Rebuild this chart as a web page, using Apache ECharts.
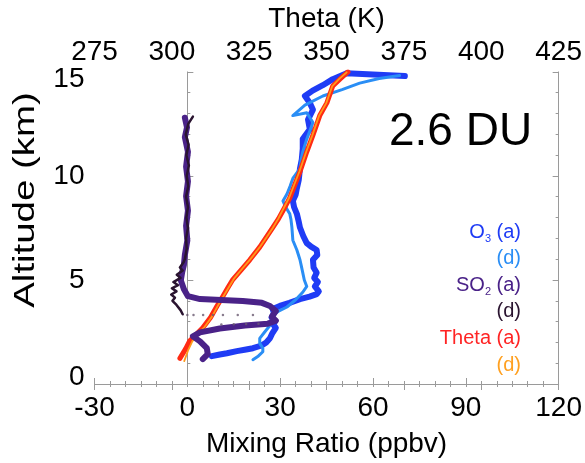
<!DOCTYPE html>
<html>
<head>
<meta charset="utf-8">
<script src="https://cdn.jsdelivr.net/npm/echarts@6/dist/echarts.min.js"></script>
<style>
  html, body { margin: 0; padding: 0; background: #fff; }
  #chart { width: 585px; height: 463px; }
</style>
</head>
<body>
<div id="chart"></div>
<script>
// Profiles: [value, altitude km]. Ascent (a) and descent (d).
const o3Ascent = [
  [7.9,1.34],[10.5,1.42],[12.8,1.48],[16,1.58],[19,1.66],[21.2,1.72],[24,1.85],[25.5,2.0],
  [26.7,2.2],[27.5,2.45],[28.6,2.7],[27.8,2.85],[28.3,3.0],[27.2,3.2],[28.0,3.4],[27.6,3.6],
  [29.9,3.75],[33,3.9],[36.4,4.08],[39.5,4.2],[41.8,4.32],[42.5,4.45],[41.2,4.69],[42.2,4.9],
  [41.0,5.1],[41.8,5.35],[40.8,5.6],[40.6,5.97],[42.0,6.2],[41.8,6.44],[40.0,6.6],[38.6,6.77],
  [37.5,7.1],[36.4,7.52],[36.0,7.8],[35.4,8.18],[34.5,8.5],[34.1,8.8],[35.0,9.1],[35.4,9.41],
  [36.0,9.8],[36.4,10.35],[37.0,10.8],[37.3,11.3],[37.3,11.77],[39.6,12.24],[39.0,12.71],
  [40.6,13.18],[39.6,13.51],[38.0,13.84],[40.5,14.1],[43.8,14.36],[47,14.65],[51.5,14.93],
  [60,14.88],[70.3,14.8]
];
const o3Descent = [
  [21.2,1.17],[23,1.35],[24.4,1.55],[24.4,1.72],[23.4,1.95],[23.4,2.19],[25,2.5],[26.7,2.81],
  [27.6,3.28],[29.5,3.5],[32.2,3.7],[35,4.05],[37.3,4.41],[38.6,4.69],[37.8,5.0],[37.3,5.35],
  [36.8,5.7],[36.4,5.97],[35.4,6.44],[34.1,6.91],[33.8,7.52],[33.5,7.9],[33.1,8.18],[31.8,8.5],
  [30.9,8.8],[32.2,9.13],[33.2,9.5],[34.1,9.88],[36.4,10.35],[36.8,10.8],[37.3,11.15],
  [38.6,11.77],[40.6,12.57],[38.6,13.04],[34.1,12.9],[38.0,13.4],[43.8,13.84],[50,14.15],
  [55.7,14.46],[62,14.68],[68.6,14.83]
];
const so2Ascent = [
  [-0.8,12.8],[-0.1,12.33],[-0.8,11.86],[0.2,11.16],[-0.4,10.45],[0.2,9.74],[-0.4,9.03],
  [0.2,8.33],[-0.4,7.6],[0,6.9],[-0.8,6.2],[-1.1,5.73],[-1.7,5.35],[-2.1,4.98],[-1.1,4.55],
  [0.2,4.22],[4.1,4.08],[17.9,3.99],[24.1,3.9],[26.7,3.75],[28.6,3.51],[27.3,3.23],[28.6,3.04],
  [26,2.9],[18.6,2.81],[10.5,2.67],[4.1,2.48],[1.8,2.29],[4.1,2.05],[6.3,1.72],[6.6,1.44],[5.0,1.2]
];
const so2Descent = [
  [1.8,12.85],[0.3,12.5],[-0.5,12.0],[0.4,11.5],[-0.3,11.0],[0.5,10.5],[-0.2,10.0],[0.3,9.5],
  [-0.4,9.0],[0.2,8.5],[-0.3,8.0],[0.2,7.5],[-0.4,7.0],[-0.2,6.5],[-0.8,6.0],[-1.2,5.85],
  [-2.4,5.6],[-1.5,5.45],[-3.4,5.25],[-2.2,5.1],[-4.5,4.9],[-3,4.75],[-5,4.6],[-3.5,4.45],
  [-5.2,4.3],[-4,4.15],[-4.8,4.0],[-3.5,3.8],[-2.2,3.55],[-1.5,3.35]
];
const so2DescentSparse = [
  [0,3.32],[2,3.32],[5.1,3.32],[8.3,3.32],[11.5,3.32],[16.3,3.32],[21.2,3.32],
  [11,2.86],[15,2.87],[19,2.88],[23,2.9]
];
const thetaAscent = [
  [302.6,1.23],[304.5,1.7],[305.8,2.08],[308,2.4],[310.0,2.7],[312.5,3.2],[314.6,3.75],
  [316.5,4.22],[318,4.6],[319.7,5.02],[322.5,5.5],[325.2,5.97],[328.4,6.58],[330.5,7.05],
  [332.6,7.52],[334.5,7.95],[335.9,8.33],[338.1,8.94],[339.8,9.6],[341.4,10.2],[343.6,11.16],
  [345.6,11.96],[347.8,12.9],[350.1,13.51],[352.0,14.32],[354.3,14.65],[356.9,15.0]
];
const thetaDescent = [
  [304.0,1.1],[305.2,1.6],[306.6,2.05],[308.6,2.45],[310.6,2.75],[313,3.25],[315.0,3.8],
  [316.8,4.25],[318.4,4.65],[320.0,5.05],[322.8,5.55],[325.4,6.0],[328.5,6.6],[330.6,7.05],
  [332.6,7.5],[334.4,7.95],[335.8,8.35],[337.9,8.95],[339.6,9.6],[341.2,10.2],[343.4,11.15],
  [345.4,11.95],[347.6,12.9],[349.9,13.5],[351.8,14.3],[354.0,14.65],[356.5,14.98]
];

// Axis ticks
const mixingTicks = { min: -30, max: 120, step: 30 };
const thetaTicks = { min: 275, max: 425, step: 25 };
const altTicks = { min: 0, max: 15, step: 5 };

const FONT = 'Liberation Sans, Arial, Helvetica, sans-serif';
const AXIS_GREY = '#9a9a9a';
const TXT = '#000';

function axisCommon(extra) {
  return Object.assign({
    type: 'value',
    splitLine: { show: false },
    axisLine: { show: true, lineStyle: { color: AXIS_GREY, width: 1 } },
    axisTick: { show: true, inside: true, length: 6, lineStyle: { color: AXIS_GREY } },
    minorTick: { show: true, length: 3, lineStyle: { color: AXIS_GREY } },
    axisLabel: { color: TXT, fontFamily: FONT, fontSize: 28, margin: 6 },
    nameTextStyle: { color: TXT, fontFamily: FONT, fontSize: 28 }
  }, extra);
}

function lineSeries(data, color, width, xi) {
  return {
    type: 'line', data: data, xAxisIndex: xi, yAxisIndex: 0,
    showSymbol: false, symbol: 'none', smooth: false,
    lineStyle: { color: color, width: width, cap: 'round', join: 'round' },
    emphasis: { disabled: true }, silent: true, z: 2
  };
}

const chart = echarts.init(document.getElementById('chart'), null, { renderer: 'canvas' });

const legendRows = [
  { text: '{m|O}{s|3}{m| (a)}', color: '#1f3cf5' },
  { text: '{m|(d)}', color: '#2a8ef5' },
  { text: '{m|SO}{s|2}{m| (a)}', color: '#4a2288' },
  { text: '{m|(d)}', color: '#2a1430' },
  { text: '{m|Theta (a)}', color: '#ff2424' },
  { text: '{m|(d)}', color: '#ffa020' }
];

chart.setOption({
  animation: false,
  backgroundColor: '#fff',
  grid: { left: 94.5, right: 26, top: 68, bottom: 77, containLabel: false },
  xAxis: [
    axisCommon({
      position: 'bottom', min: mixingTicks.min, max: mixingTicks.max, interval: mixingTicks.step,
      minorTick: { show: true, splitNumber: 6, length: 3, lineStyle: { color: AXIS_GREY } },
      axisLabel: { color: TXT, fontFamily: FONT, fontSize: 28, margin: 10 },
      name: 'Mixing Ratio (ppbv)', nameLocation: 'middle', nameGap: 46
    }),
    axisCommon({
      position: 'top', min: thetaTicks.min, max: thetaTicks.max, interval: thetaTicks.step,
      minorTick: { show: true, splitNumber: 5, length: 3, lineStyle: { color: AXIS_GREY } },
      name: 'Theta (K)', nameLocation: 'middle', nameGap: 37
    })
  ],
  yAxis: [
    axisCommon({
      position: 'left', min: altTicks.min, max: altTicks.max, interval: altTicks.step,
      minorTick: { show: true, splitNumber: 5, length: 3, lineStyle: { color: AXIS_GREY } },
      axisLabel: { color: TXT, fontFamily: FONT, fontSize: 28, margin: 10, lineHeight: 14,
                   verticalAlignMinLabel: 'bottom', verticalAlignMaxLabel: 'top' }
    }),
    axisCommon({
      position: 'right', min: altTicks.min, max: altTicks.max, interval: altTicks.step,
      minorTick: { show: true, splitNumber: 5, length: 3, lineStyle: { color: AXIS_GREY } },
      axisLabel: { show: false }
    })
  ],
  series: [
    lineSeries(o3Ascent, '#1f3cf5', 6, 0),
    lineSeries(o3Descent, '#2a8ef5', 3, 0),
    lineSeries(thetaAscent, '#ff2a12', 5, 1),
    lineSeries(thetaDescent, '#ff9a1a', 1.8, 1),
    lineSeries(so2Ascent, '#4a2288', 6, 0),
    lineSeries(so2Descent, '#2a1430', 2.5, 0),
    {
      type: 'scatter', data: so2DescentSparse, xAxisIndex: 0, yAxisIndex: 0,
      symbol: 'circle', symbolSize: 2.5, itemStyle: { color: '#6a5a70' }, silent: true, z: 3
    }
  ],
  graphic: [
    {
      // vertical axis title
      type: 'text', x: 26, y: 200, rotation: Math.PI / 2, scaleX: 1.28, silent: true,
      style: { text: 'Altitude (km)', font: '30px ' + FONT, fill: '#000',
               align: 'center', verticalAlign: 'middle', textAlign: 'center', textVerticalAlign: 'middle' }
    },
    {
      type: 'text', x: 389, y: 132, silent: true,
      style: { text: '2.6 DU', font: '46px ' + FONT, fill: '#000',
               align: 'left', verticalAlign: 'middle', textAlign: 'left', textVerticalAlign: 'middle' }
    }
  ].concat(legendRows.map(function (r, i) {
    return {
      type: 'text', x: 521, y: 232 + i * 26.6, silent: true,
      style: {
        text: r.text, fill: r.color, align: 'right', verticalAlign: 'middle',
        textAlign: 'right', textVerticalAlign: 'middle',
        rich: {
          m: { fontFamily: FONT, fontSize: 20, color: r.color, lineHeight: 24, verticalAlign: 'middle' },
          s: { fontFamily: FONT, fontSize: 11, color: r.color, lineHeight: 24, verticalAlign: 'bottom' }
        }
      }
    };
  }))
});
</script>
</body>
</html>
